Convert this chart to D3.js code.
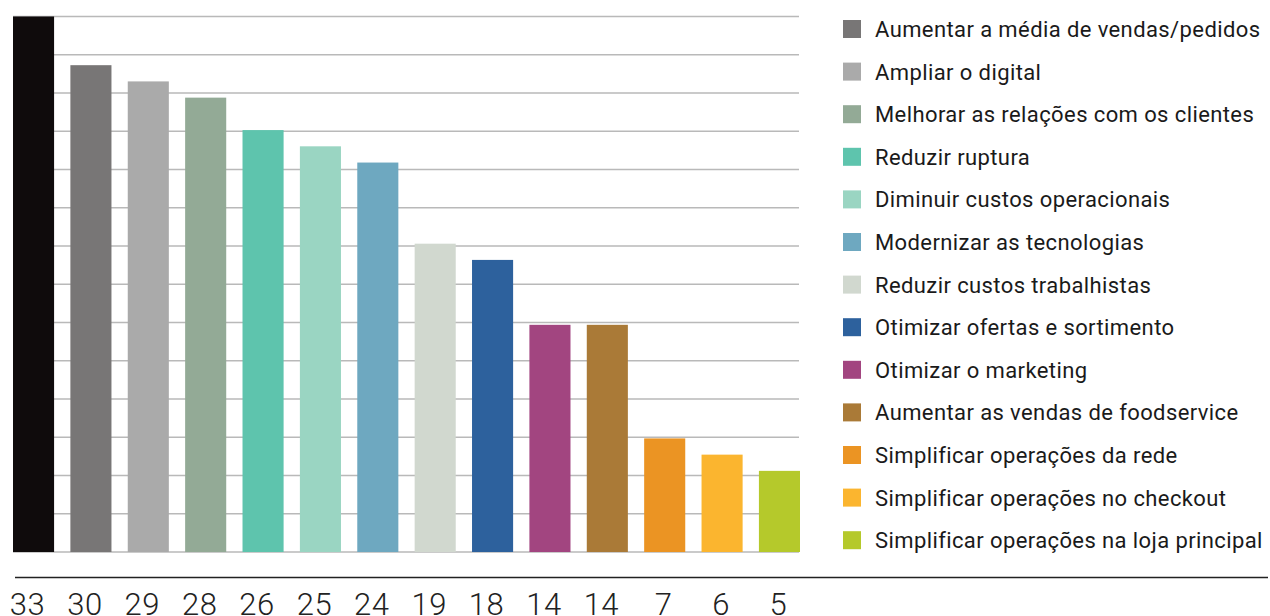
<!DOCTYPE html>
<html><head><meta charset="utf-8">
<script src="https://cdn.jsdelivr.net/npm/d3@7"></script>
<style>html,body{margin:0;padding:0;background:#fff;overflow:hidden}</style>
</head><body>
<svg id="c" width="1270" height="616"></svg>
<script>
const categories = ["Total","Aumentar a média de vendas/pedidos","Ampliar o digital","Melhorar as relações com os clientes","Reduzir ruptura","Diminuir custos operacionais","Modernizar as tecnologias","Reduzir custos trabalhistas","Otimizar ofertas e sortimento","Otimizar o marketing","Aumentar as vendas de foodservice","Simplificar operações da rede","Simplificar operações no checkout","Simplificar operações na loja principal"];
const values = [33,30,29,28,26,25,24,19,18,14,14,7,6,5];
const colors = ["#0f0b0c","#787676","#aaaaaa","#93aa96","#5ec4ad","#9ad5c2","#6ea8c0","#d1d8cf","#2d619d","#a24580","#aa7a37","#eb9423","#fbb52f","#b5c92b"];
const legendItems = categories.slice(1);
const gridCount = 14;

const svg = d3.select("#c");
const x = d3.scaleBand().domain(categories).range([13, 800]).paddingInner(0.284).paddingOuter(0);
const y = d3.scaleLinear().domain([0, 33]).range([552, 16.5]);

const gridVals = d3.range(gridCount + 1).map(i => i * 33 / gridCount);
svg.append("g").selectAll("line").data(gridVals).join("line")
  .attr("x1", 13).attr("x2", 799)
  .attr("y1", d => y(d)).attr("y2", d => y(d))
  .attr("stroke", "#b9b9b9").attr("stroke-width", 1.6);

svg.append("g").selectAll("rect").data(values).join("rect")
  .attr("x", (d, i) => x(categories[i]))
  .attr("width", x.bandwidth())
  .attr("y", d => y(d))
  .attr("height", d => y(0) - y(d))
  .attr("fill", (d, i) => colors[i]);

svg.append("line").attr("x1", 15).attr("x2", 1268).attr("y1", 577.5).attr("y2", 577.5)
  .attr("stroke", "#222").attr("stroke-width", 1.5);

svg.append("g").selectAll("text").data(values).join("text")
  .attr("x", (d, i) => x(categories[i]) + x.bandwidth() / 2 - (d >= 10 ? 6 : 1))
  .attr("y", 615)
  .attr("text-anchor", "middle")
  .attr("font-family", "Roboto").attr("font-weight", 300)
  .attr("font-size", 31).attr("letter-spacing", 0.5).attr("fill", "#222")
  .text(d => d);

const lg = svg.append("g");
legendItems.forEach((t, i) => {
  const yy = 20 + i * 42.6;
  lg.append("rect").attr("x", 843).attr("y", yy).attr("width", 18).attr("height", 18).attr("fill", colors[i + 1]);
  lg.append("text").attr("x", 875).attr("y", yy + 17).attr("font-family", "Roboto")
    .attr("font-size", 22).attr("letter-spacing", 0.4).attr("fill", "#1a1a1a").text(t);
});
</script>
</body></html>
